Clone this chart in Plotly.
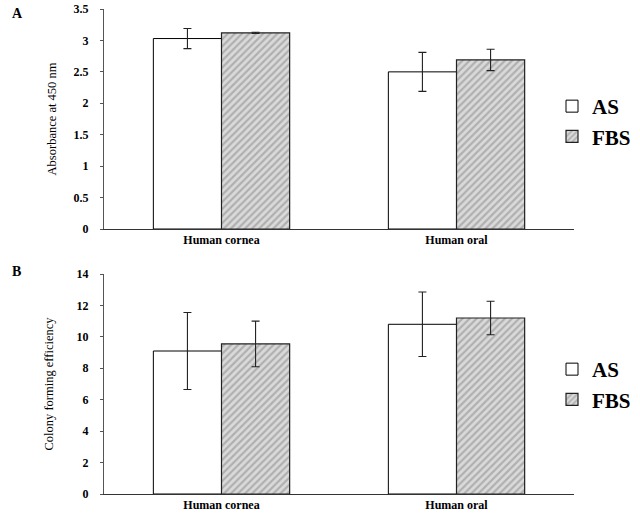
import plotly.graph_objects as go

categories = ["Human cornea", "Human oral"]
series_names = ["AS", "FBS"]

# Panel A: absorbance at 450 nm
abs_as = [3.03, 2.50]
abs_as_err = [0.16, 0.31]
abs_fbs = [3.12, 2.69]
abs_fbs_err = [0.01, 0.17]

# Panel B: colony forming efficiency
cfe_as = [9.1, 10.8]
cfe_as_err = [2.45, 2.05]
cfe_fbs = [9.55, 11.2]
cfe_fbs_err = [1.45, 1.07]

a_ticks = [0, 0.5, 1, 1.5, 2, 2.5, 3, 3.5]
a_ticklabels = ["0", "0.5", "1", "1.5", "2", "2.5", "3", "3.5"]
b_ticks = [0, 2, 4, 6, 8, 10, 12, 14]

W, H = 640, 519
ML, MR, MT, MB = 104, 66, 9, 25
PW, PH = W - ML - MR, H - MT - MB
FONT = "Liberation Serif"

def px(x):
    return (x - ML) / PW

def py(y):
    return 1 - (y - MT) / PH

as_style = dict(color="white", line=dict(color="black", width=1))
fbs_style = dict(color="#d0d0d0", line=dict(color="#222", width=1.2),
                 pattern=dict(shape="/", fgcolor="#858585", bgcolor="#dadada",
                              size=5, solidity=0.45))
err = dict(type="data", color="#222", thickness=1.1, width=4)

fig = go.Figure()
fig.add_trace(go.Bar(x=categories, y=abs_as, name=series_names[0], marker=as_style,
                     error_y=dict(array=abs_as_err, **err), xaxis="x", yaxis="y",
                     legend="legend"))
fig.add_trace(go.Bar(x=categories, y=abs_fbs, name=series_names[1], marker=fbs_style,
                     error_y=dict(array=abs_fbs_err, **err), xaxis="x", yaxis="y",
                     legend="legend"))
fig.add_trace(go.Bar(x=categories, y=cfe_as, name=series_names[0], marker=as_style,
                     error_y=dict(array=cfe_as_err, **err), xaxis="x2", yaxis="y2",
                     legend="legend2"))
fig.add_trace(go.Bar(x=categories, y=cfe_fbs, name=series_names[1], marker=fbs_style,
                     error_y=dict(array=cfe_fbs_err, **err), xaxis="x2", yaxis="y2",
                     legend="legend2"))

xcommon = dict(showline=True, linecolor="#333", linewidth=1, ticks="",
               tickfont=dict(family=FONT, size=12, color="black", weight="bold"),
               showgrid=False, zeroline=False, domain=[0, 1], automargin=False)
ycommon = dict(showline=True, linecolor="#555", linewidth=1, ticks="outside",
               ticklen=3, tickcolor="#555", showgrid=False, zeroline=False,
               ticklabelstandoff=9, automargin=False,
               tickfont=dict(family=FONT, size=12, color="black", weight="bold"))

legcommon = dict(xanchor="left", yanchor="top",
                 font=dict(family=FONT, size=21, weight="bold"),
                 itemwidth=30, tracegroupgap=6, bgcolor="rgba(0,0,0,0)")

fig.update_layout(
    width=W, height=H,
    margin=dict(l=ML, r=MR, t=MT, b=MB, autoexpand=False),
    plot_bgcolor="white", paper_bgcolor="white",
    barmode="group", bargap=0.42, bargroupgap=0,
    font=dict(family=FONT, color="black"),
    xaxis=dict(anchor="y", **xcommon),
    yaxis=dict(anchor="x", domain=[py(229), py(9)], range=[0, 3.5],
               tickvals=a_ticks, ticktext=a_ticklabels,
               title=dict(text="Absorbance at 450 nm", standoff=14,
                          font=dict(family=FONT, size=12.5)), **ycommon),
    xaxis2=dict(anchor="y2", **xcommon),
    yaxis2=dict(anchor="x2", domain=[py(494), py(274)], range=[0, 14],
                tickvals=b_ticks,
                title=dict(text="Colony forming efficiency", standoff=20,
                           font=dict(family=FONT, size=12.5)), **ycommon),
    legend=dict(x=px(552), y=py(86), **legcommon),
    legend2=dict(x=px(552), y=py(349), **legcommon),
    annotations=[
        dict(text="A", x=px(10), y=py(14), xref="paper", yref="paper",
             showarrow=False, xanchor="left", yanchor="middle",
             font=dict(family=FONT, size=14, weight="bold")),
        dict(text="B", x=px(10), y=py(271), xref="paper", yref="paper",
             showarrow=False, xanchor="left", yanchor="middle",
             font=dict(family=FONT, size=14, weight="bold")),
    ],
)

fig.write_html("out.html", config={"displayModeBar": False},
               post_script="document.body.style.margin='0';document.body.style.padding='0';")
